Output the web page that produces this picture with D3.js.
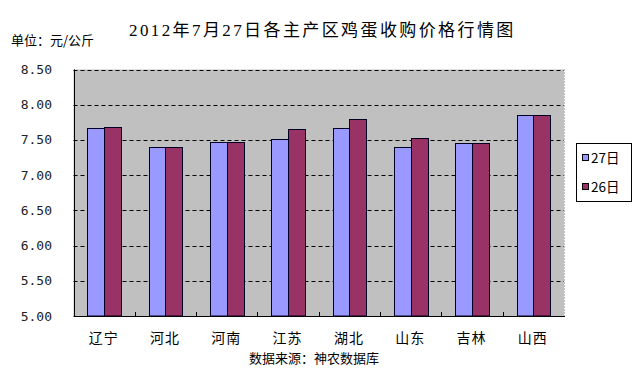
<!DOCTYPE html>
<html><head><meta charset="utf-8">
<script src="https://cdn.jsdelivr.net/npm/d3@7"></script>
<style>html,body{margin:0;padding:0;background:#fff;}svg{display:block;}</style>
</head><body>
<svg id="chart" width="642" height="373"></svg>
<script>
const categories = ["辽宁","河北","河南","江苏","湖北","山东","吉林","山西"];
const seriesNames = ["27日","26日"];
const values27 = [7.67, 7.40, 7.47, 7.51, 7.67, 7.40, 7.46, 7.85];
const values26 = [7.68, 7.40, 7.47, 7.66, 7.80, 7.53, 7.46, 7.85];
const yTicks = [5.00, 5.50, 6.00, 6.50, 7.00, 7.50, 8.00, 8.50];
const titleText = "2012年7月27日各主产区鸡蛋收购价格行情图";
const unitText = "单位：元/公斤";
const sourceText = "数据来源：神农数据库";
const colors = ["#9999FF", "#993366"];

const svg = d3.select("#chart");
const L = 73.5, R = 564, T = 69.5, B = 316;
const cjk = "'Noto Sans CJK SC', sans-serif";

const y = d3.scaleLinear().domain([5, 8.5]).range([B, T]);
const x = d3.scaleBand().domain(categories).range([L, R]).paddingInner(0).paddingOuter(0);
const x1 = d3.scaleBand().domain(seriesNames).range([0, x.bandwidth()]).paddingInner(0).paddingOuter(0.83);

// plot background
svg.append("rect").attr("x", L).attr("y", T).attr("width", R - L).attr("height", B - T).attr("fill", "#C0C0C0");

// gridlines
svg.append("g").selectAll("line").data(yTicks.filter(v => v > 5)).join("line")
  .attr("x1", L).attr("x2", R)
  .attr("y1", d => Math.round(y(d)) + 0.5).attr("y2", d => Math.round(y(d)) + 0.5)
  .attr("stroke", "#000").attr("stroke-width", 1).attr("stroke-dasharray", "4,3");

// right border dotted
svg.append("line").attr("x1", R + 0.5).attr("x2", R + 0.5).attr("y1", T).attr("y2", B)
  .attr("stroke", "#808080").attr("stroke-dasharray", "1,2");

// bars
const data = categories.map((c, i) => ({c, vals: [values27[i], values26[i]]}));
const g = svg.append("g");
data.forEach(d => {
  d.vals.forEach((v, j) => {
    const x0 = Math.round(x(d.c) + x1(seriesNames[j])) + 0.5;
    const w = Math.round(x1.bandwidth());
    const yt = Math.round(y(v)) + 0.5;
    g.append("rect").attr("x", x0).attr("y", yt).attr("width", w).attr("height", B - yt)
      .attr("fill", colors[j]).attr("stroke", "#000022").attr("stroke-width", 1);
  });
});

// axes lines
svg.append("line").attr("x1", Math.round(L) + 0.5).attr("x2", Math.round(L) + 0.5).attr("y1", T).attr("y2", B + 0.5)
  .attr("stroke", "#000");
svg.append("line").attr("x1", L).attr("x2", R + 1).attr("y1", B + 0.5).attr("y2", B + 0.5).attr("stroke", "#000");

// x ticks at band boundaries (pointing up)
const bounds = categories.slice(1).map(c => x(c));
svg.append("g").selectAll("line").data(bounds).join("line")
  .attr("x1", d => Math.round(d) + 0.5).attr("x2", d => Math.round(d) + 0.5)
  .attr("y1", B - 4).attr("y2", B).attr("stroke", "#000");

// y tick labels
svg.append("g").selectAll("text").data(yTicks).join("text")
  .attr("x", 52).attr("y", d => y(d)).attr("dy", "0.35em").attr("text-anchor", "end")
  .attr("font-family", "'DejaVu Sans Mono', monospace").attr("font-size", 13).attr("fill", "#222")
  .text(d => d3.format(".2f")(d));

// x labels
svg.append("g").selectAll("text").data(categories).join("text")
  .attr("x", d => x(d) + x.bandwidth() / 2 - 0.5).attr("y", 338).attr("dy", "0.35em").attr("text-anchor", "middle")
  .attr("font-family", cjk).attr("font-size", 14).attr("letter-spacing", 1).attr("fill", "#000")
  .text(d => d);

// title
svg.append("text").attr("x", 129).attr("y", 30).attr("dy", "0.35em")
  .attr("font-family", "'Liberation Serif', 'Noto Sans CJK SC', serif").attr("font-size", 17).attr("letter-spacing", 2.4)
  .attr("fill", "#000").text(titleText);

// unit label
svg.append("text").attr("x", 11).attr("y", 40).attr("dy", "0.35em")
  .attr("font-family", cjk).attr("font-size", 13).attr("fill", "#000").text(unitText);

// source
svg.append("text").attr("x", 314).attr("y", 358).attr("dy", "0.35em").attr("text-anchor", "middle")
  .attr("font-family", cjk).attr("font-size", 13).attr("fill", "#000").text(sourceText);

// legend
svg.append("rect").attr("x", 576.5).attr("y", 143.5).attr("width", 55).attr("height", 58)
  .attr("fill", "#fff").attr("stroke", "#000");
seriesNames.forEach((s, j) => {
  const cy = 158 + j * 29;
  svg.append("rect").attr("x", 582.5).attr("y", cy - 3.5).attr("width", 6).attr("height", 6)
    .attr("fill", colors[j]).attr("stroke", "#000");
  svg.append("text").attr("x", 591).attr("y", cy).attr("dy", "0.35em")
    .attr("font-family", cjk).attr("font-size", 13.5).attr("fill", "#000").text(s);
});
</script>
</body></html>
